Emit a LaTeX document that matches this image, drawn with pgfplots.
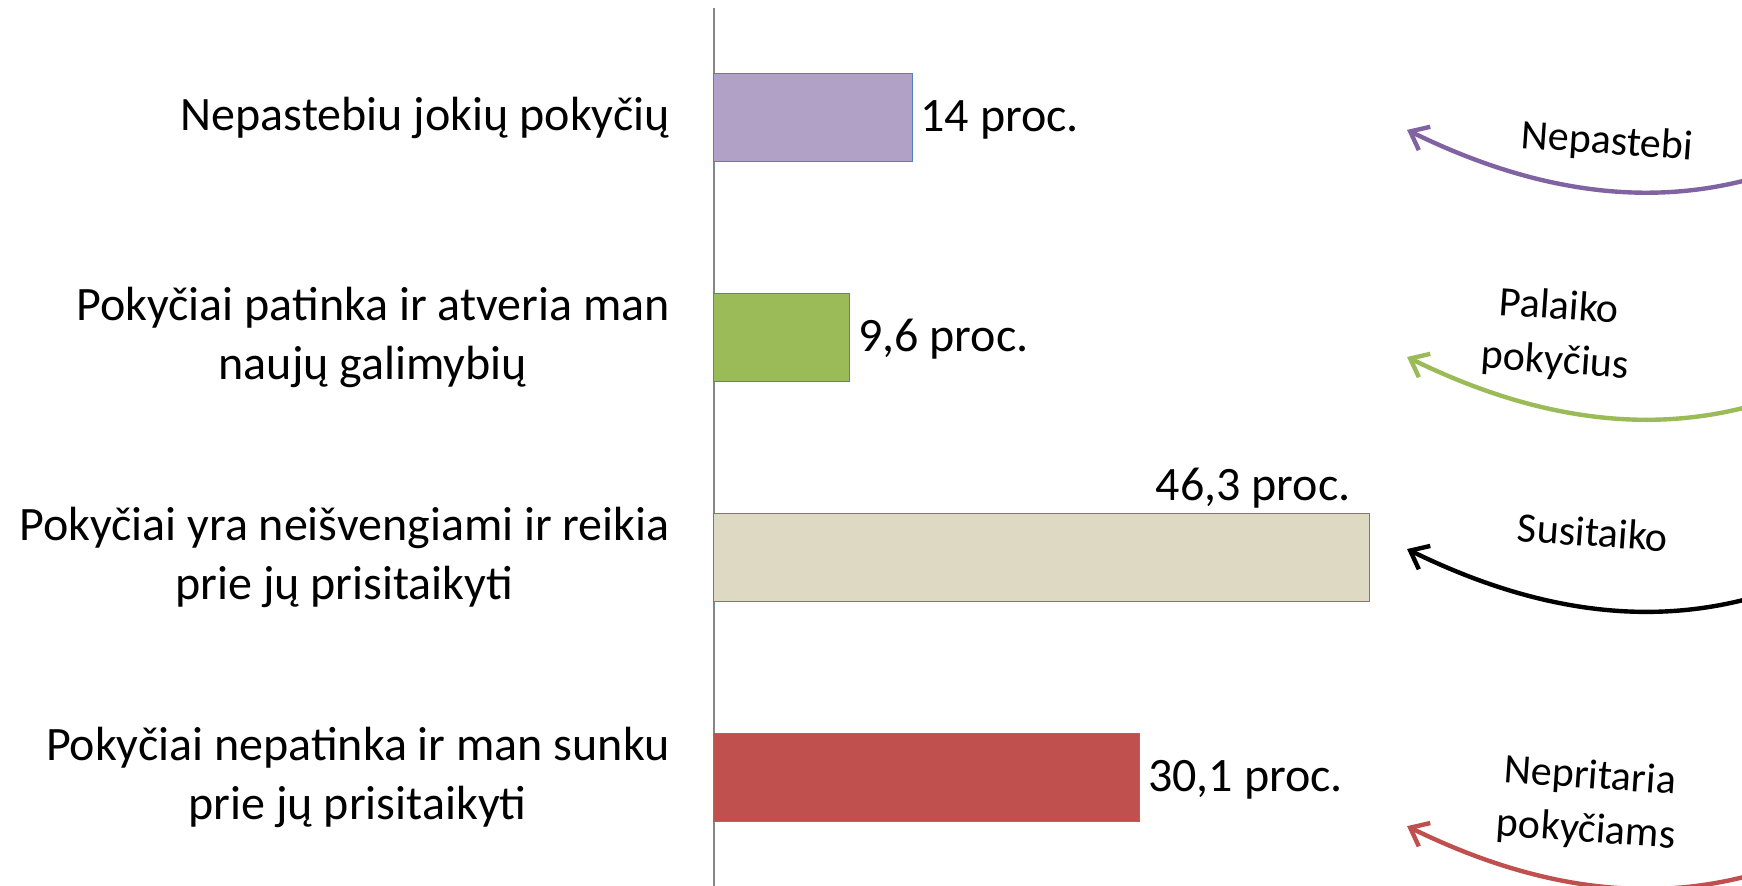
\documentclass[border=0pt]{standalone}
\usepackage{fontspec}
\setmainfont{Carlito}
\usepackage{pgfplots}
\pgfplotsset{compat=1.18}
\usetikzlibrary{arrows.meta}
\definecolor{cPurple}{HTML}{B2A1C7}
\definecolor{cGreen}{HTML}{9BBB59}
\definecolor{cBeige}{HTML}{DDD9C3}
\definecolor{cRed}{HTML}{C0504D}
\definecolor{cBlue}{HTML}{4F81BD}
\definecolor{axisgrey}{HTML}{868686}
\definecolor{aPurple}{HTML}{8064A2}
\definecolor{aGreen}{HTML}{9BBB59}
\definecolor{aRed}{HTML}{C0504D}
\begin{document}
\begin{tikzpicture}
\begin{axis}[
  name=a, at={(0,0)}, anchor=south west,
  width=514pt, height=439.5pt, scale only axis,
  xmin=0, xmax=72.65, ymin=-0.5, ymax=3.5, y dir=reverse,
  axis x line=none, axis y line*=left,
  y axis line style={draw=axisgrey, line width=1pt},
  ytick={0,1,2,3},
  yticklabels={{Nepastebiu jokių pokyčių},{Pokyčiai patinka ir atveria man\\naujų galimybių},{Pokyčiai yra neišvengiami ir reikia\\prie jų prisitaikyti},{Pokyčiai nepatinka ir man sunku\\prie jų prisitaikyti}},
  yticklabel style={anchor=east, inner sep=0pt, align=center, xshift=-22pt, font=\fontsize{24}{29.5}\selectfont},
  major tick length=0pt,
  xbar, bar width=0.4, bar shift=0pt,
  clip=false,
]
\addplot[fill=cPurple, draw=cBlue, line width=0.5pt] coordinates {(14,0)};
\addplot[fill=cGreen, draw=cBlue, line width=0.5pt] coordinates {(9.6,1)};
\addplot[fill=cBeige, draw=cBlue, line width=0.5pt] coordinates {(46.3,2)};
\addplot[fill=cRed, draw=cBlue, line width=0.5pt] coordinates {(30.1,3)};

\begin{scope}[every node/.style={font=\fontsize{24}{29.5}\selectfont, inner sep=0pt}]
\node[anchor=base west, xshift=4pt, yshift=-7pt] at (axis cs:14,0) {14 proc.};
\node[anchor=base west, xshift=4pt, yshift=-7pt] at (axis cs:9.6,1) {9,6 proc.};
\node[anchor=base east, yshift=6.5pt] at (axis cs:45.02,1.8) {46,3 proc.};
\node[anchor=base west, xshift=4pt, yshift=-7pt] at (axis cs:30.1,3) {30,1 proc.};
\end{scope}

\begin{scope}[line width=2.2pt, -{Straight Barb[length=8pt,width=13pt]}]
\draw[aPurple] (axis cs:75.34,0.2367) .. controls (axis cs:68.27,0.396) and (axis cs:59.79,0.396) .. (axis cs:48.98,0.0546);
\draw[aGreen] (axis cs:75.34,1.270) .. controls (axis cs:68.27,1.4294) and (axis cs:59.79,1.4294) .. (axis cs:48.98,1.088);
\draw[black] (axis cs:75.34,2.144) .. controls (axis cs:68.27,2.3035) and (axis cs:59.79,2.3035) .. (axis cs:48.98,1.962);
\draw[aRed] (axis cs:75.34,3.405) .. controls (axis cs:68.27,3.5645) and (axis cs:59.79,3.5645) .. (axis cs:48.98,3.223);
\end{scope}

\begin{scope}[every node/.style={font=\fontsize{21}{27}\selectfont, align=center, rotate=-4, inner sep=0pt}]
\node at (axis cs:63.11,0.1138) {Nepastebi};
\node at (axis cs:59.58,0.988) {Palaiko\\pokyčius};
\node at (axis cs:62.12,1.885) {Susitaiko};
\node at (axis cs:61.77,3.123) {Nepritaria\\pokyčiams};
\end{scope}
\end{axis}
\pgfresetboundingbox
\path[use as bounding box] ([shift={(-357pt,1pt)}]a.south west) rectangle ([shift={(514pt,443.5pt)}]a.south west);
\end{tikzpicture}
\end{document}
